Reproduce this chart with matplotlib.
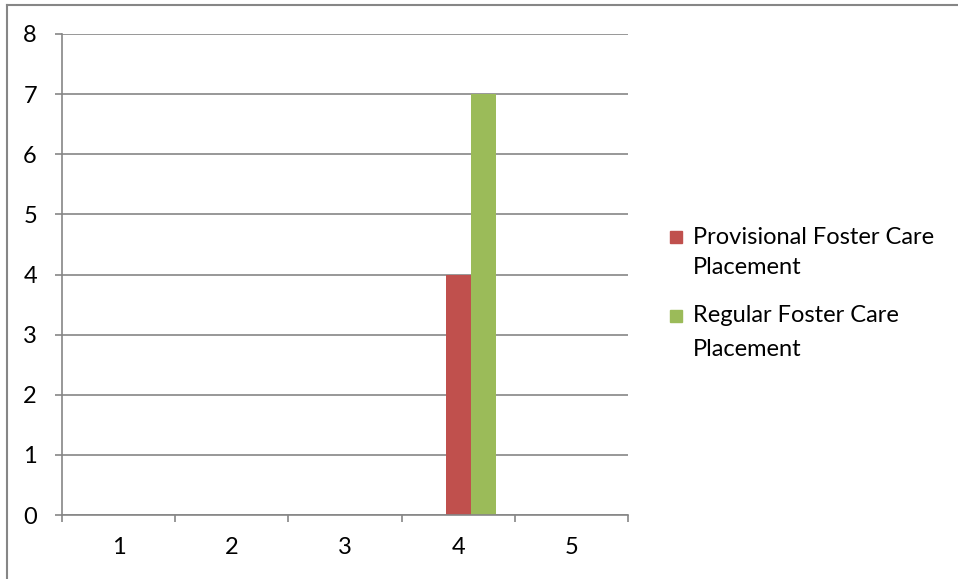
import matplotlib
matplotlib.use("Agg")
import matplotlib.pyplot as plt
from matplotlib.patches import Rectangle
from matplotlib.lines import Line2D

categories = ["1", "2", "3", "4", "5"]
series_names = ["Provisional Foster Care\nPlacement", "Regular Foster Care\nPlacement"]
provisional = [0, 0, 0, 4, 0]
regular = [0, 0, 0, 7, 0]
y_ticks = [0, 1, 2, 3, 4, 5, 6, 7, 8]

colors = ["#C0504D", "#9BBB59"]
grid_color = "#868686"
fs = 17

plt.rcParams["font.family"] = ["Lato", "DejaVu Sans"]

fig = plt.figure(figsize=(9.58, 5.79), dpi=100)
ax = fig.add_axes([62 / 958, 1 - 515 / 579, (628 - 62) / 958, (515 - 34) / 579])

# clustered layout: three slots per category with 150% gap width
bar_w = 1 / 4.5
xs = range(len(categories))
for offset, vals, col in zip([0, bar_w], [provisional, regular], colors):
    ax.bar([x + offset for x in xs], vals, width=bar_w, color=col, zorder=3)

ax.set_xlim(-0.5, len(categories) - 0.5)
ax.set_ylim(0, 8)
ax.set_yticks(y_ticks)
ax.set_yticklabels([str(t) for t in y_ticks])
ax.set_xticks(list(xs))
ax.set_xticklabels(categories)
ax.set_xticks([x - 0.5 for x in range(len(categories) + 1)], minor=True)

ax.grid(axis="y", color=grid_color, linewidth=1.2, zorder=0)
for s in ["top", "right"]:
    ax.spines[s].set_visible(False)
for s in ["left", "bottom"]:
    ax.spines[s].set_color(grid_color)
    ax.spines[s].set_linewidth(1.2)
    ax.spines[s].set_zorder(4)

ax.tick_params(axis="y", length=5, width=1.2, color=grid_color, pad=13, labelsize=fs)
ax.tick_params(axis="x", which="major", length=0, pad=16, labelsize=fs)
ax.tick_params(axis="x", which="minor", length=5, width=1.2, color=grid_color)

# legend
legend_items = [(237, 268), (316, 349)]
for (y1, y2), name, col in zip(legend_items, series_names, colors):
    first, second = name.split("\n")
    fig.patches.append(Rectangle((670 / 958, 1 - (y1 + 6) / 579), 12 / 958, 12 / 579,
                                 transform=fig.transFigure, color=col))
    fig.text(693 / 958, 1 - y1 / 579, first, fontsize=fs, va="center", ha="left")
    fig.text(693 / 958, 1 - y2 / 579, second, fontsize=fs, va="center", ha="left")

# chart border
fig.add_artist(Line2D([7 / 958, 7 / 958], [0, 1 - 4.5 / 579], transform=fig.transFigure,
                      color=grid_color, linewidth=1.5))
fig.add_artist(Line2D([7 / 958, 1], [1 - 4.5 / 579, 1 - 4.5 / 579], transform=fig.transFigure,
                      color=grid_color, linewidth=1.5))

fig.savefig("out.png", dpi=100)
